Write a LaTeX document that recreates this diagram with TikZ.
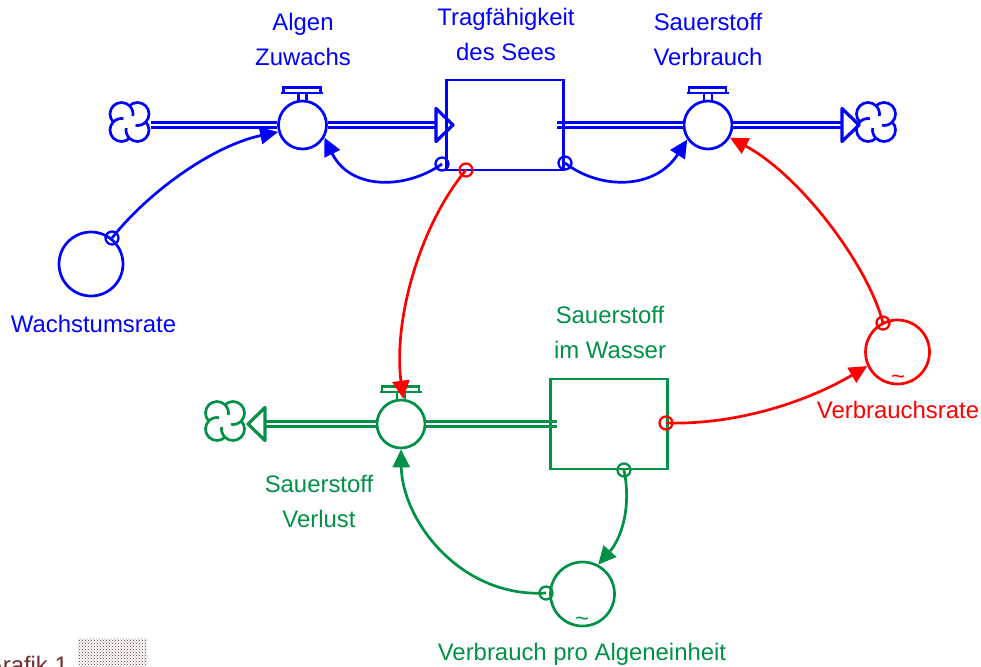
\documentclass[tikz,border=0pt]{standalone}
\usepackage{fontspec}
\setmainfont{Liberation Sans}
\usetikzlibrary{arrows.meta,patterns}
\definecolor{sdblue}{RGB}{0,0,255}
\definecolor{sdred}{RGB}{255,0,0}
\definecolor{sdgreen}{RGB}{0,145,70}
\definecolor{sdbrown}{RGB}{110,46,46}
\begin{document}
\begin{tikzpicture}[x=1pt, y=-1pt,
    every node/.style = {font=\fontsize{23.9}{35}\selectfont, align=center, inner sep=0pt},
    valve/.style = {shape=circle, draw, fill=white, line width=2.7pt, minimum size=48pt},
    stockbox/.style = {shape=rectangle, draw, line width=2.9pt, minimum width=117pt, minimum height=90pt},
    aux/.style = {shape=circle, draw, line width=2.7pt, minimum size=64pt},
    tap/.style = {shape=circle, draw, line width=2.3pt, minimum size=13pt},
    pipe/.style = {line width=3pt, double=white, double distance=2pt},
    link/.style = {line width=2.7pt, -{Triangle[length=18pt,width=17pt]}},
    pics/handle/.style = {code={
      \draw[line width=2.7pt] (-19,-32) -- (-19,-37.7) -- (18,-37.7) -- (18,-32);
      \draw[line width=2.7pt] (-21.5,-32) -- (20.5,-32);
      \draw[line width=2.7pt] (-3.9,-32) -- (-3.9,-23) (3.9,-32) -- (3.9,-23);
    }},
    pics/flowtip/.style = {code={
      \draw[line width=3.2pt, line join=round] (0,0) -- (-17,-16.5) -- (-17,16.5) -- cycle;
    }},
    pics/cloudsym/.style = {code={
      \begin{scope}[y=1pt, line width=2.7pt]
      \foreach \turn in {0,90,180,270}
        \draw[rotate=\turn] (8,8) ++(135:11.5pt) arc[start angle=135, end angle=-100, radius=11.5pt];
      \end{scope}
    }}]
    \clip (0,0) rectangle (981,666);

    \coordinate (cloudA) at (129.5,122);
    \coordinate (cloudB) at (876,122);
    \coordinate (cloudC) at (225,421);
    \coordinate (pipeA) at (151,125);
    \coordinate (tipA) at (453,125);
    \coordinate (drainA) at (557,125);
    \coordinate (tipB) at (859,125);
    \coordinate (tipC) at (248,424);
    \coordinate (drainC) at (557,424);

    % blue part
    \begin{scope}[color=sdblue]
    \node[valve] (zuwachs) at (302.5,125) {};
    \node[valve] (verbrauch) at (708,125) {};
    \draw[pipe] (pipeA) -- (zuwachs);
    \draw[pipe] (zuwachs) -- (436,125);
    \draw[pipe] (drainA) -- (verbrauch);
    \draw[pipe] (verbrauch) -- (842,125);
    \node[stockbox] (see) at (505,125) {};
    \pic at (zuwachs.center) {handle};
    \pic at (verbrauch.center) {handle};
    \pic at (tipA) {flowtip};
    \pic at (tipB) {flowtip};
    \pic at (cloudA) {cloudsym};
    \pic at (cloudB) {cloudsym};
    \node[aux] (wachstum) at (91,264) {};
    \node[tap] (tapW) at (112,238) {};
    \node[tap] (tapA) at (442,164) {};
    \node[tap] (tapB) at (565,163) {};
    \draw[link] (tapW.center) .. controls (150,190) and (215,145) .. (zuwachs.196);
    \draw[link] (tapA.center) .. controls (405,190) and (350,190) .. (zuwachs.-30);
    \draw[link] (tapB.center) .. controls (600,190) and (655,190) .. (verbrauch.215);
    \node (algen) at (303,39.5) {Algen\\Zuwachs};
    \node (tragen) at (506,34.5) {Tragfähigkeit\\des Sees};
    \node (sauerB) at (708,39.5) {Sauerstoff\\Verbrauch};
    \node (wachsT) at (93.5,323.5) {Wachstumsrate};
    \end{scope}

    % green part
    \begin{scope}[color=sdgreen]
    \node[valve] (verlust) at (401,424) {};
    \draw[pipe] (verlust) -- (266,424);
    \draw[pipe] (drainC) -- (verlust);
    \node[stockbox] (wasser) at (609,424) {};
    \pic at (verlust.center) {handle};
    \pic[rotate=180] at (tipC) {flowtip};
    \pic at (cloudC) {cloudsym};
    \node[aux] (alge) at (582.5,594) {};
    \node (tildeG) at (582,622) {\textasciitilde};
    \node[tap] (tapV) at (546,593) {};
    \node[tap] (tapS) at (624,470) {};
    \draw[link] (tapV.center) .. controls (460,598) and (402,520) .. (verlust.south);
    \draw[link] (tapS.center) .. controls (632,510) and (620,540) .. (alge.62);
    \node (sauerW) at (610,332.5) {Sauerstoff\\im Wasser};
    \node (sauerV) at (319,501) {Sauerstoff\\Verlust};
    \node (algeT) at (582,654.5) {Verbrauch pro Algeneinheit};
    \end{scope}

    % red part
    \begin{scope}[color=sdred]
    \node[aux] (rate) at (897.5,352) {};
    \node (tildeR) at (898,380) {\textasciitilde};
    \node[tap] (tapR) at (883,323) {};
    \node[tap] (tapQ) at (466,170) {};
    \node[tap] (tapP) at (666,423) {};
    \draw[link] (tapR.center) .. controls (868,265) and (800,175) .. (verbrauch.-30);
    \draw[link] (tapQ.center) .. controls (420,225) and (393,320) .. (verlust.85);
    \draw[link] (tapP.center) .. controls (740,425) and (810,400) .. (rate.205);
    \node (rateT) at (898,409.5) {Verbrauchsrate};
    \end{scope}

    % corner
    \node[anchor=base west, color=sdbrown] (grafik) at (-16,673) {Grafik 1};
    \node[pattern=crosshatch dots, pattern color=sdbrown, minimum width=69pt, minimum height=40pt] (raster) at (112.5,658) {};
\end{tikzpicture}
\end{document}
